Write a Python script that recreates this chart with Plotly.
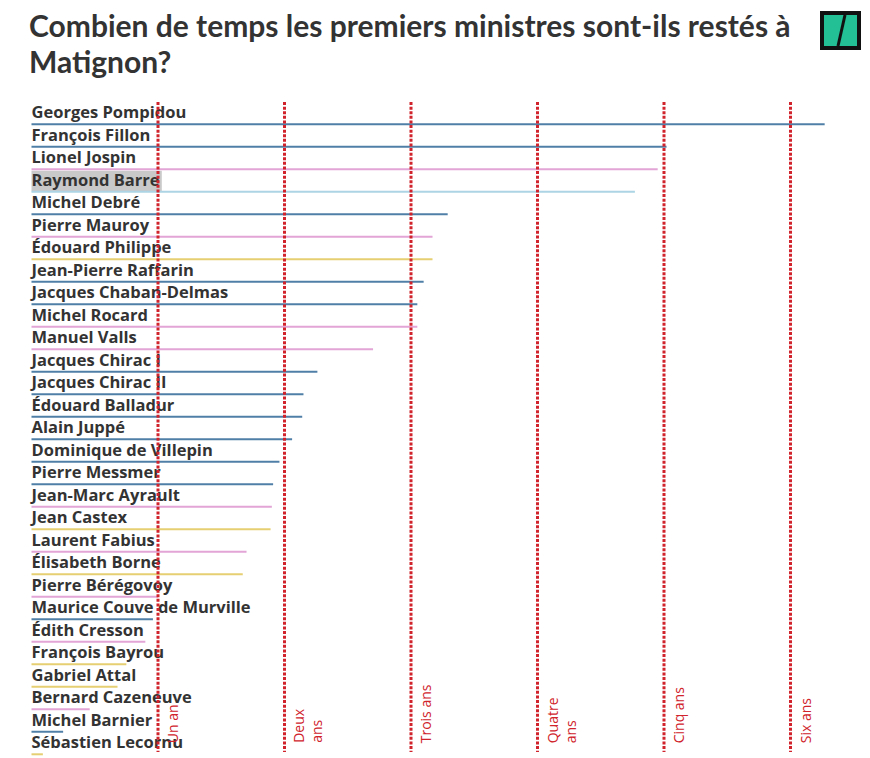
import plotly.graph_objects as go

# ---- data ----
names = ["Georges Pompidou", "François Fillon", "Lionel Jospin", "Raymond Barre",
         "Michel Debré", "Pierre Mauroy", "Édouard Philippe", "Jean-Pierre Raffarin",
         "Jacques Chaban-Delmas", "Michel Rocard", "Manuel Valls", "Jacques Chirac I",
         "Jacques Chirac II", "Édouard Balladur", "Alain Juppé", "Dominique de Villepin",
         "Pierre Messmer", "Jean-Marc Ayrault", "Jean Castex", "Laurent Fabius",
         "Élisabeth Borne", "Pierre Bérégovoy", "Maurice Couve de Murville",
         "Édith Cresson", "François Bayrou", "Gabriel Attal", "Bernard Cazeneuve",
         "Michel Barnier", "Sébastien Lecornu"]
years = [6.27, 5.02, 4.95, 4.77, 3.29, 3.17, 3.17, 3.10, 3.05, 3.05, 2.70, 2.26,
         2.15, 2.14, 2.06, 1.96, 1.91, 1.90, 1.89, 1.70, 1.67, 1.00, 0.96, 0.90,
         0.75, 0.68, 0.46, 0.25, 0.09]
family = ["droite", "droite", "gauche", "centre-droit", "droite", "gauche", "centre",
          "droite", "droite", "gauche", "gauche", "droite", "droite", "droite", "droite",
          "droite", "droite", "gauche", "centre", "gauche", "centre", "gauche", "droite",
          "gauche", "centre", "centre", "gauche", "droite", "centre"]
highlight = "Raymond Barre"
ref_years = [1, 2, 3, 4, 5, 6]
ref_labels = ["Un an", "Deux<br>ans", "Trois ans", "Quatre<br>ans", "Cinq ans", "Six ans"]

colors = {"droite": "#4f7fa6", "gauche": "#e2a5d6", "centre": "#e6cf72",
          "centre-droit": "#acd4e4"}

title_lines = ["Combien de temps les premiers ministres sont-ils restés à", "Matignon?"]

W, H = 870, 758
OFF = 8  # page body margin
x0_px, px_per_year = 31.5 - OFF, 126.5
y0_px, px_per_row = 124.3 - OFF, 22.5

fig = go.Figure()
rows = list(range(len(names)))

# bars (thin horizontal lines)
for i, (n, v, f) in enumerate(zip(names, years, family)):
    fig.add_trace(go.Scatter(x=[0, v], y=[i, i], mode="lines",
                             line=dict(color=colors[f], width=2),
                             hoverinfo="skip", showlegend=False))

# highlight box behind Raymond Barre
hi = names.index(highlight)
fig.add_shape(type="rect", xref="x", yref="y", x0=0.0, x1=1.03,
              y0=hi - 0.94, y1=hi - 0.02, fillcolor="#c9c9c9",
              line=dict(width=0), layer="below")

# name labels
fig.add_trace(go.Scatter(x=[0] * len(names), y=[r - 0.45 for r in rows], mode="text",
                         text=names, textposition="middle right",
                         textfont=dict(family="Open Sans", size=16.5, color="#333333", weight=700),
                         hoverinfo="skip", showlegend=False))

# reference dotted lines
y_top, y_bot = -0.99, 27.9
for yv in ref_years:
    fig.add_trace(go.Scatter(x=[yv, yv], y=[y_top, y_bot], mode="lines",
                             line=dict(color="#d0232b", width=3, dash="3px,1.6px"),
                             hoverinfo="skip", showlegend=False))

for yv, lab in zip(ref_years, ref_labels):
    fig.add_annotation(x=yv, y=27.6, xref="x", yref="y", text=lab, showarrow=False,
                       textangle=-90, xanchor="left", yanchor="bottom", align="left",
                       xshift=3, font=dict(family="Open Sans", size=14, color="#d0232b"))

# title (two lines placed separately)
def px(x, y):
    return (x - OFF) / W, 1 - (y - OFF) / H

for line, yc in zip(title_lines, [25, 61]):
    tx, ty = px(28, yc)
    fig.add_annotation(xref="paper", yref="paper", x=tx, y=ty, text=line,
                       showarrow=False, xanchor="left", yanchor="middle", align="left",
                       borderpad=0,
                       font=dict(family="Lato", size=30, color="#333333", weight=700))

# logo
lx0, ly0 = px(820, 11)
lx1, ly1 = px(861, 50)
fig.add_shape(type="rect", xref="paper", yref="paper", x0=lx0, y0=ly1, x1=lx1, y1=ly0,
              fillcolor="#111111", line=dict(width=0), layer="above")
gx0, gy0 = px(824, 15)
gx1, gy1 = px(857, 46)
fig.add_shape(type="rect", xref="paper", yref="paper", x0=gx0, y0=gy1, x1=gx1, y1=gy0,
              fillcolor="#23bf95", line=dict(width=0), layer="above")
sx0, sy0 = px(845, 15)
sx1, sy1 = px(838, 46)
fig.add_shape(type="line", xref="paper", yref="paper", x0=sx0, y0=sy0, x1=sx1, y1=sy1,
              line=dict(color="#111111", width=3), layer="above")

fig.update_layout(
    width=W, height=H, margin=dict(l=0, r=0, t=0, b=0),
    paper_bgcolor="white", plot_bgcolor="white",
    xaxis=dict(range=[-x0_px / px_per_year, (W - x0_px) / px_per_year],
               visible=False, fixedrange=True),
    yaxis=dict(range=[(H - y0_px) / px_per_row, -y0_px / px_per_row],
               visible=False, fixedrange=True),
    showlegend=False,
)

fig.write_html("out.html")
